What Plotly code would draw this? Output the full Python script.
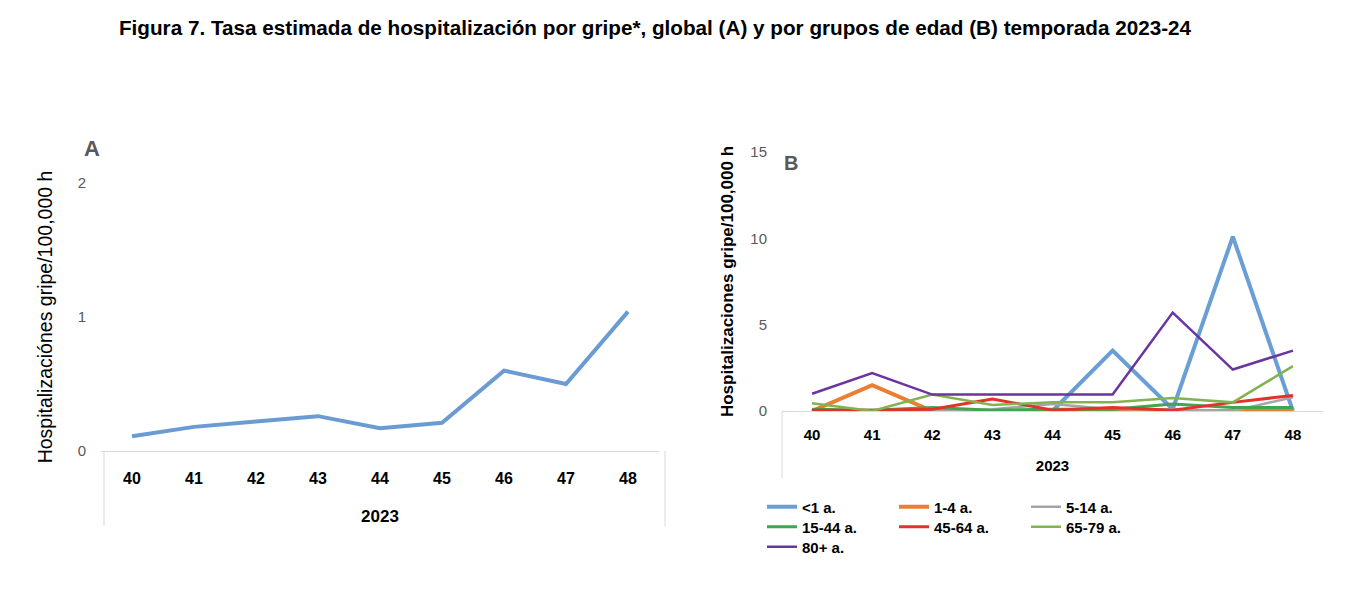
import plotly.graph_objects as go

weeks = [40, 41, 42, 43, 44, 45, 46, 47, 48]
week_labels = ["40", "41", "42", "43", "44", "45", "46", "47", "48"]
year_label = "2023"

global_rate = [0.11, 0.18, 0.22, 0.26, 0.17, 0.21, 0.60, 0.50, 1.04]

group_names = ["<1 a.", "1-4 a.", "5-14 a.", "15-44 a.", "45-64 a.", "65-79 a.", "80+ a."]
r_lt1 = [0.0, 0.0, 0.0, 0.0, 0.0, 3.5, 0.1, 10.1, 0.0]
r_1_4 = [0.0, 1.5, 0.0, 0.0, 0.0, 0.0, 0.0, 0.0, 0.0]
r_5_14 = [0.0, 0.0, 0.0, 0.1, 0.4, 0.1, 0.1, 0.0, 0.8]
r_15_44 = [0.1, 0.05, 0.2, 0.05, 0.1, 0.1, 0.4, 0.2, 0.2]
r_45_64 = [0.05, 0.05, 0.1, 0.7, 0.05, 0.2, 0.05, 0.5, 0.9]
r_65_79 = [0.45, 0.0, 0.95, 0.35, 0.5, 0.5, 0.75, 0.5, 2.6]
r_80 = [1.0, 2.2, 0.95, 0.95, 0.95, 0.95, 5.7, 2.4, 3.5]
group_values = [r_lt1, r_1_4, r_5_14, r_15_44, r_45_64, r_65_79, r_80]

colors = ["#6A9FD6", "#ED7D31", "#A5A5A5", "#3EA651", "#E5312B", "#82B352", "#6A35A0"]
widths = [4, 4, 2.5, 3, 3, 2.5, 2.5]
legend_ids = ["legend", "legend", "legend", "legend2", "legend2", "legend2", "legend3"]

W, H = 1356, 600
FONT = "Liberation Sans, Arial, sans-serif"

def px_x(p):
    return p / W

def px_y(p):
    return 1 - p / H

fig = go.Figure()

fig.add_trace(go.Scatter(x=weeks, y=global_rate, mode="lines",
                         line=dict(color="#6A9BD3", width=4),
                         xaxis="x", yaxis="y", showlegend=False))

for name, vals, c, w, lg in zip(group_names, group_values, colors, widths, legend_ids):
    fig.add_trace(go.Scatter(x=weeks, y=vals, mode="lines", name=name,
                             line=dict(color=c, width=w),
                             xaxis="x2", yaxis="y2", legend=lg))

common_x = dict(range=[39.5, 48.5], tickmode="array", tickvals=weeks, ticktext=week_labels,
                showgrid=False, zeroline=False, showline=True, linecolor="#D9D9D9",
                linewidth=1, ticks="", automargin=False)
common_y = dict(showgrid=False, zeroline=False, showline=False, ticks="", automargin=False,
                tickfont=dict(family=FONT, size=15, color="#595959"))

legend_common = dict(orientation="h", x=px_x(762), xanchor="left", yanchor="middle",
                     entrywidth=87, entrywidthmode="pixels", tracegroupgap=0,
                     bgcolor="rgba(0,0,0,0)",
                     font=dict(family=FONT, size=15, color="black", weight="bold"), itemwidth=30)

fig.update_layout(
    width=W, height=H,
    margin=dict(l=0, r=0, t=0, b=0),
    paper_bgcolor="white", plot_bgcolor="white",
    font=dict(family=FONT),
    title=dict(text="Figura 7. Tasa estimada de hospitalización por gripe*, global (A) y por grupos de edad (B) temporada 2023-24",
               x=655 / W, y=px_y(28), xanchor="center", yanchor="middle",
               font=dict(family=FONT, size=20.7, color="black", weight="bold")),
    xaxis=dict(common_x, domain=[px_x(101), px_x(659)], anchor="y",
               tickfont=dict(family=FONT, size=16, color="black", weight="bold"), ticklabelstandoff=13,
               title=dict(text=year_label, font=dict(family=FONT, size=17, color="black", weight="bold"),
                          standoff=23)),
    yaxis=dict(common_y, domain=[px_y(451), px_y(183)], range=[0, 2], anchor="x",
               tickvals=[0, 1, 2], ticklabelstandoff=14,
               title=dict(text="Hospitalizaciónes gripe/100,000 h",
                          font=dict(family=FONT, size=19.5, color="black"), standoff=19)),
    xaxis2=dict(common_x, domain=[px_x(782), px_x(1323)], anchor="y2",
                tickfont=dict(family=FONT, size=15, color="black", weight="bold"), ticklabelstandoff=10,
                title=dict(text=year_label, font=dict(family=FONT, size=15, color="black", weight="bold"),
                           standoff=18)),
    yaxis2=dict(common_y, domain=[px_y(411), px_y(152)], range=[0, 15], anchor="x2",
                tickvals=[0, 5, 10, 15], ticklabelstandoff=14,
                title=dict(text="Hospitalizaciones gripe/100,000 h",
                           font=dict(family=FONT, size=17, color="black", weight="bold"), standoff=12)),
    legend=dict(legend_common, y=px_y(507)),
    legend2=dict(legend_common, y=px_y(527)),
    legend3=dict(legend_common, y=px_y(547)),
    annotations=[
        dict(text="A", x=px_x(92), y=px_y(148), xref="paper", yref="paper", showarrow=False,
             xanchor="center", yanchor="middle",
             font=dict(family=FONT, size=22, color="#595959", weight="bold")),
        dict(text="B", x=px_x(791), y=px_y(163), xref="paper", yref="paper", showarrow=False,
             xanchor="center", yanchor="middle",
             font=dict(family=FONT, size=20, color="#595959", weight="bold")),
    ],
    shapes=[
        dict(type="line", xref="paper", yref="paper", x0=px_x(104), x1=px_x(104), y0=px_y(451), y1=px_y(526),
             line=dict(color="#D9D9D9", width=1)),
        dict(type="line", xref="paper", yref="paper", x0=px_x(665), x1=px_x(665), y0=px_y(451), y1=px_y(526),
             line=dict(color="#D9D9D9", width=1)),
        dict(type="line", xref="paper", yref="paper", x0=px_x(782), x1=px_x(782), y0=px_y(411), y1=px_y(478),
             line=dict(color="#D9D9D9", width=1)),
    ],
)

fig.write_html("out.html")
